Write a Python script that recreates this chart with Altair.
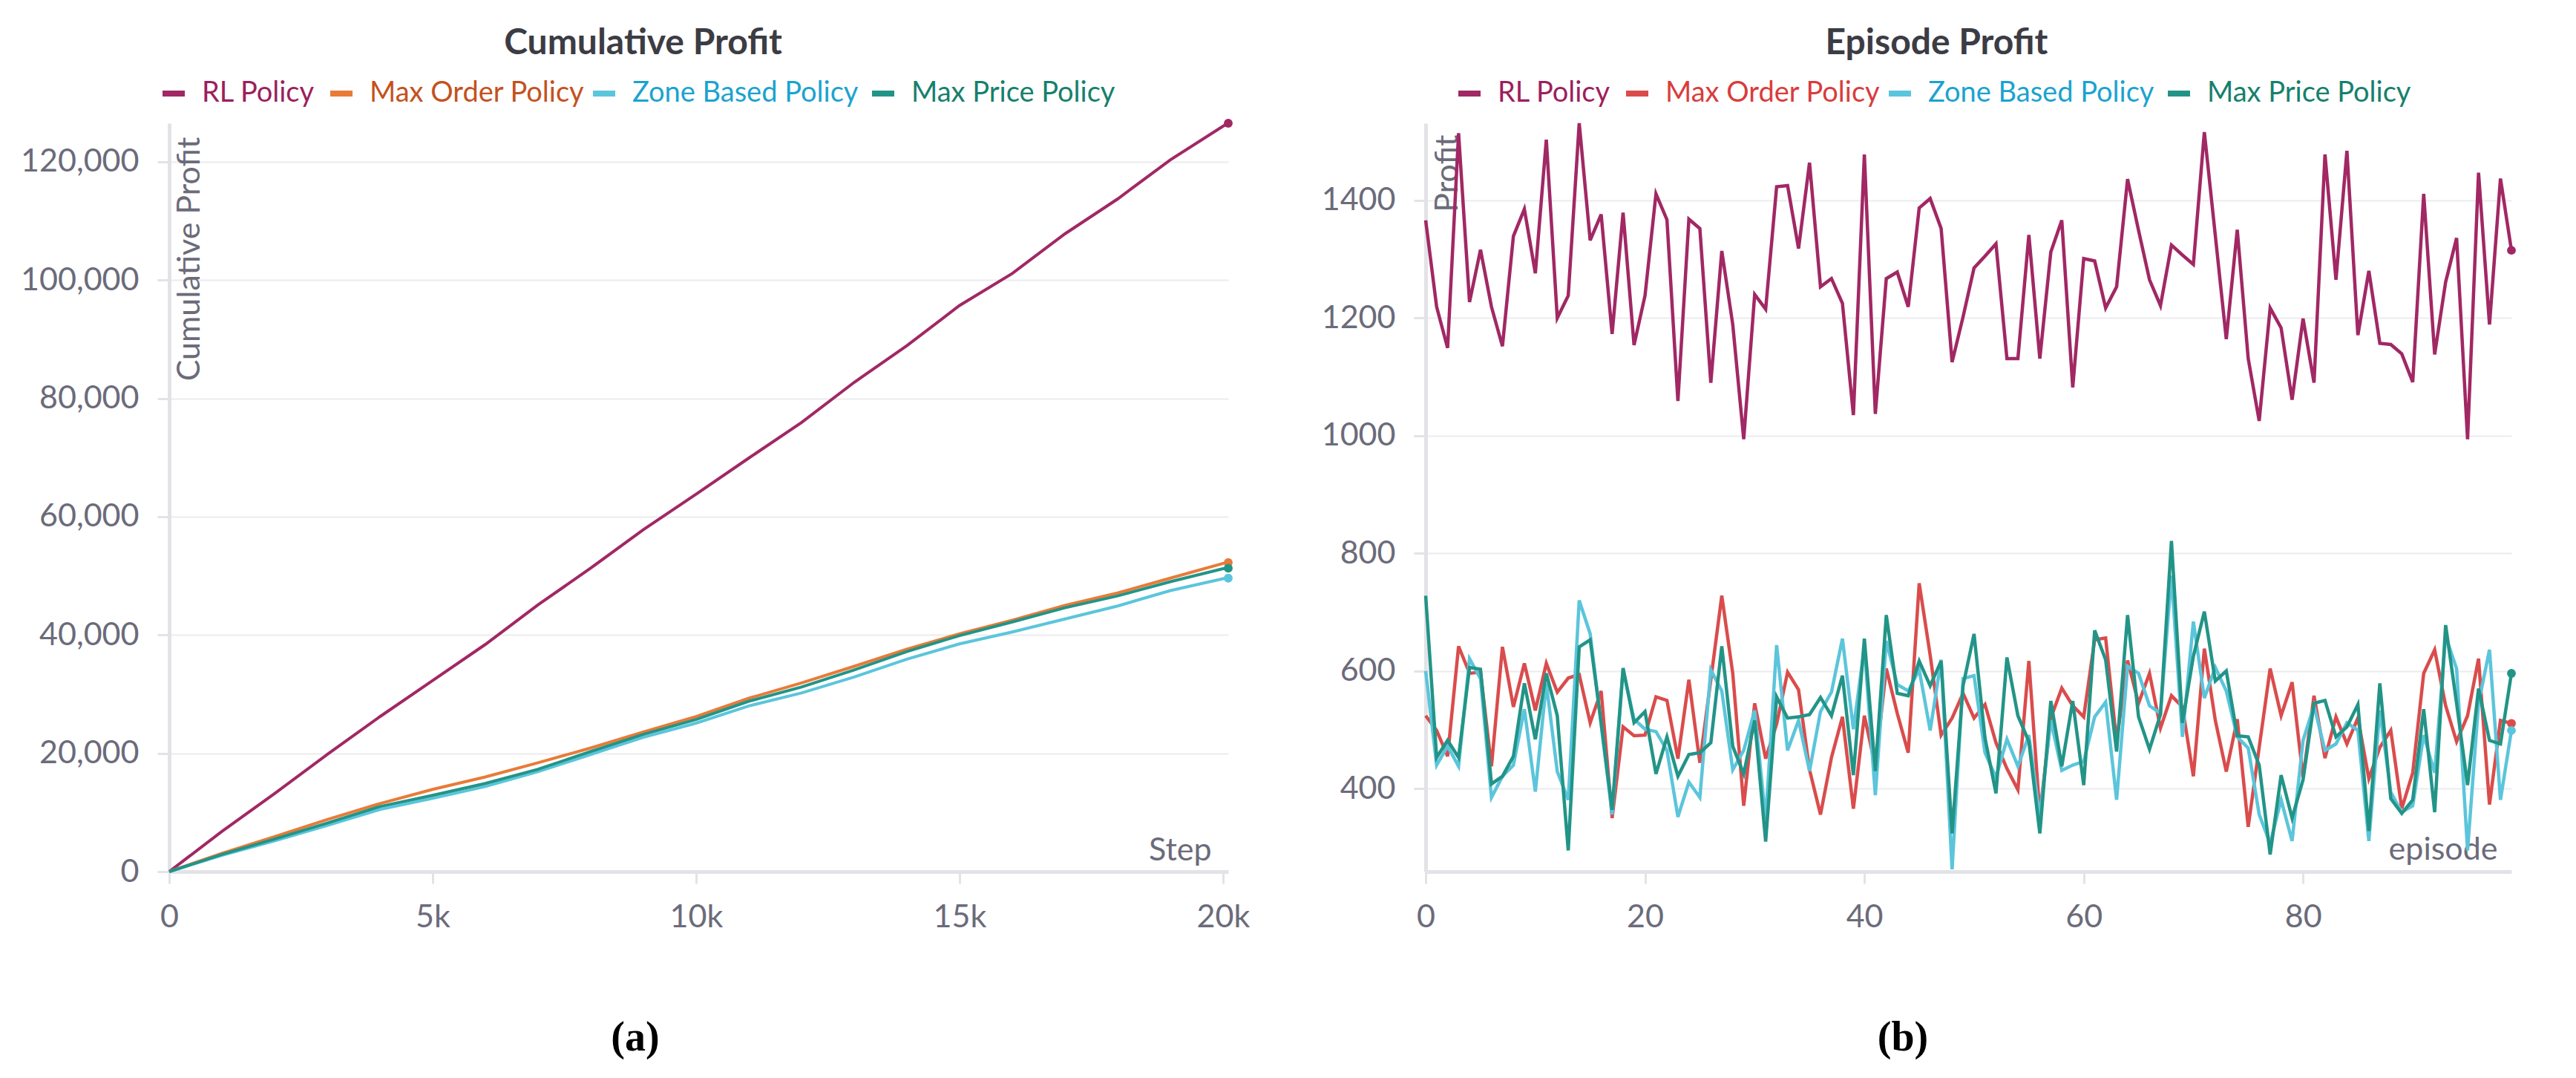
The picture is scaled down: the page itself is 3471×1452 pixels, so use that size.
import altair as alt
import pandas as pd

SERIES = ["RL Policy", "Max Order Policy", "Zone Based Policy", "Max Price Policy"]
LEFT_COLORS = ["#a12864", "#e87b38", "#5bc5db", "#229487"]
RIGHT_COLORS = ["#a12864", "#da4c4c", "#5bc5db", "#229487"]
LEFT_TEXT = ["#9c1f5d", "#c4511d", "#1ba3cf", "#16806d"]
RIGHT_TEXT = ["#9c1f5d", "#d93c3c", "#1ba3cf", "#16806d"]
PANEL_TITLES = ["Cumulative Profit", "Episode Profit"]
PANEL_LABELS = ["(a)", "(b)"]

# ---- Cumulative profit (left) ----
STEPS = [0, 1000, 2000, 3000, 4000, 5000, 6000, 7000, 8000, 9000, 10000,
         11000, 12000, 13000, 14000, 15000, 16000, 17000, 18000, 19000, 20000, 20100]
CUM_RL = [0, 6800, 13200, 19800, 26200, 32300, 38400, 45100, 51300, 57800, 63800,
          69900, 75900, 82700, 88900, 95700, 101100, 107800, 113700, 120300, 126000, 126500]
CUM_ORDER = [0, 3100, 5900, 8800, 11500, 13900, 16000, 18400, 20900, 23600, 26200,
             29300, 31900, 34700, 37600, 40200, 42500, 45000, 47100, 49600, 52100, 52240]
CUM_ZONE = [0, 2750, 5200, 7800, 10500, 12400, 14400, 16900, 19800, 22700, 25100,
            28000, 30200, 32900, 35900, 38500, 40500, 42700, 44900, 47500, 49500, 49600]
CUM_PRICE = [0, 2900, 5500, 8200, 11000, 12900, 14900, 17300, 20300, 23200, 25700,
             28800, 31200, 34100, 37200, 39900, 42200, 44600, 46600, 49000, 51200, 51280]

# ---- Episode profit (right) ----
EPISODES = list(range(100))
EP_RL = [1366, 1219, 1149, 1514, 1227, 1316, 1219, 1152, 1339, 1385,
         1276, 1503, 1200, 1238, 1531, 1332, 1376, 1173, 1379, 1154,
         1238, 1411, 1367, 1059, 1368, 1352, 1090, 1314, 1189, 994,
         1240, 1215, 1423, 1425, 1318, 1464, 1253, 1267, 1225, 1035,
         1478, 1037, 1267, 1278, 1219, 1387, 1403, 1352, 1125, 1202,
         1285, 1305, 1326, 1131, 1131, 1341, 1131, 1312, 1366, 1082,
         1301, 1297, 1217, 1253, 1436, 1349, 1265, 1221, 1324, 1307,
         1291, 1516, 1340, 1164, 1350, 1131, 1025, 1217, 1183, 1061,
         1199, 1090, 1478, 1265, 1484, 1171, 1280, 1157, 1155, 1139,
         1091, 1411, 1138, 1261, 1336, 994, 1447, 1189, 1437, 1315]
EP_ORDER = [524, 499, 455, 642, 596, 598, 438, 641, 539, 613,
            533, 613, 564, 588, 594, 512, 566, 350, 505, 490,
            491, 556, 550, 451, 585, 444, 585, 728, 596, 371,
            545, 451, 510, 598, 568, 432, 356, 453, 522, 366,
            524, 438, 604, 528, 461, 749, 627, 491, 520, 562,
            520, 543, 478, 434, 398, 617, 356, 520, 571, 541,
            522, 653, 656, 480, 618, 545, 596, 503, 558, 539,
            421, 638, 516, 429, 518, 335, 470, 604, 524, 581,
            419, 558, 452, 522, 476, 520, 417, 470, 499, 366,
            427, 596, 636, 541, 480, 524, 621, 373, 516, 511]
EP_ZONE = [600, 440, 472, 438, 621, 587, 385, 421, 440, 535,
           395, 579, 429, 381, 720, 663, 509, 356, 602, 518,
           501, 497, 465, 352, 411, 385, 602, 566, 432, 465,
           533, 347, 644, 465, 516, 430, 531, 564, 655, 501,
           640, 389, 651, 577, 566, 602, 499, 619, 263, 587,
           592, 461, 419, 484, 438, 491, 352, 516, 431, 440,
           446, 522, 547, 381, 608, 596, 541, 528, 762, 488,
           684, 554, 606, 566, 488, 469, 356, 307, 381, 311,
           482, 541, 465, 476, 512, 499, 311, 533, 394, 360,
           371, 491, 427, 659, 604, 295, 545, 636, 381, 499]
EP_PRICE = [728, 453, 482, 453, 606, 603, 408, 421, 455, 579,
            484, 596, 524, 295, 641, 653, 512, 364, 605, 512,
            531, 425, 488, 421, 458, 461, 478, 642, 472, 425,
            516, 310, 556, 520, 522, 526, 555, 524, 592, 423,
            655, 430, 695, 562, 558, 617, 575, 617, 324, 575,
            663, 486, 392, 623, 524, 480, 324, 549, 438, 549,
            406, 669, 619, 463, 695, 522, 467, 526, 821, 512,
            625, 701, 583, 600, 490, 488, 440, 288, 423, 350,
            415, 545, 550, 488, 505, 543, 328, 579, 383, 358,
            381, 535, 360, 678, 545, 406, 570, 482, 476, 596]

LEFT_XTICKS = [0, 5000, 10000, 15000, 20000]
LEFT_YTICKS = [0, 20000, 40000, 60000, 80000, 100000, 120000]
RIGHT_XTICKS = [0, 20, 40, 60, 80]
RIGHT_YTICKS = [400, 600, 800, 1000, 1200, 1400]

FONT = "Lato"
GRAY = "#6b6b7a"
LW, LH = 1427, 1008
RW, RH = 1463, 1008
LEFT_LEGEND_X = [-13, 213, 567, 943]
RIGHT_LEGEND_X = [40, 266, 620, 996]
LEGEND_Y = -59


def long_frame(xname, xs, series_values):
    rows = []
    for name, vals in zip(SERIES, series_values):
        for x, v in zip(xs, vals):
            rows.append({xname: x, "policy": name, "profit": v})
    return pd.DataFrame(rows)


def make_legend(x, text_color):
    return alt.Legend(
        title=None, orient="none", legendX=x, legendY=LEGEND_Y, direction="horizontal",
        symbolType="stroke", symbolStrokeWidth=8, symbolSize=900,
        labelFont=FONT, labelFontSize=38, labelOffset=19, labelColor=text_color,
        padding=0, labelLimit=1000,
    )


def panel(df, xfield, xenc, yenc, colors, text_colors, legend_xs, last_x, stroke_w,
          label, label_x, title, title_dx, width, height):
    layers = []
    for name, c, tc, lx_ in zip(SERIES, colors, text_colors, legend_xs):
        base = alt.Chart(df).transform_filter(alt.datum.policy == name)
        line = base.mark_line(strokeWidth=stroke_w).encode(
            x=xenc, y=yenc,
            color=alt.Color("policy:N", scale=alt.Scale(domain=[name], range=[c]),
                            legend=make_legend(lx_, tc)),
        )
        layers.append(line)
    for name, c in zip(SERIES, colors):
        pt = alt.Chart(df).transform_filter(
            (alt.datum.policy == name) & (alt.datum[xfield] == last_x)
        ).mark_circle(size=140, opacity=1, color=c).encode(x=xenc, y=yenc)
        layers.append(pt)
    lab = alt.Chart(pd.DataFrame({"t": [label]})).mark_text(
        font="Liberation Serif", fontSize=56, fontWeight="bold", color="black",
        align="center", baseline="middle").encode(
        text="t:N", x=alt.value(label_x), y=alt.value(1232))
    layers.append(lab)
    return alt.layer(*layers).resolve_scale(color="independent").resolve_legend(
        color="independent").properties(
        width=width, height=height,
        title=alt.TitleParams(text=title, font=FONT, fontSize=48, fontWeight="bold",
                              color="#3c3c44", anchor="middle", frame="group", dx=title_dx,
                              offset=-14, baseline="alphabetic"),
    )


cum_df = long_frame("step", STEPS, [CUM_RL, CUM_ORDER, CUM_ZONE, CUM_PRICE])
ep_df = long_frame("episode", EPISODES, [EP_RL, EP_ORDER, EP_ZONE, EP_PRICE])

lx = alt.X("step:Q", scale=alt.Scale(domain=[0, 20100], nice=False),
           axis=alt.Axis(values=LEFT_XTICKS, grid=False, labelFlush=False,
                         labelExpr="datum.value === 0 ? '0' : (datum.value / 1000) + 'k'",
                         labelPadding=24, title="Step", titleX=LW - 23, titleY=-16,
                         titleAlign="right", titleBaseline="alphabetic", titleAngle=0))
ly = alt.Y("profit:Q", scale=alt.Scale(domain=[0, 126500], nice=False),
           axis=alt.Axis(values=LEFT_YTICKS, format=",d", grid=True, labelFlush=False,
                         labelPadding=25, title="Cumulative Profit", titleX=6, titleY=18,
                         titleAngle=270, titleAlign="right", titleBaseline="top"))
rx = alt.X("episode:Q", scale=alt.Scale(domain=[0, 99], nice=False),
           axis=alt.Axis(values=RIGHT_XTICKS, format="d", grid=False, labelFlush=False,
                         labelPadding=24, title="episode", titleX=RW - 19, titleY=-17,
                         titleAlign="right", titleBaseline="alphabetic", titleAngle=0))
ry = alt.Y("profit:Q", scale=alt.Scale(domain=[259, 1531], nice=False),
           axis=alt.Axis(values=RIGHT_YTICKS, format="d", grid=True, labelFlush=False,
                         labelPadding=25, title="Profit", titleX=8, titleY=15,
                         titleAngle=270, titleAlign="right", titleBaseline="top"))

left = panel(cum_df, "step", lx, ly, LEFT_COLORS, LEFT_TEXT, LEFT_LEGEND_X, STEPS[-1], 4,
             PANEL_LABELS[0], 628, PANEL_TITLES[0], -75, LW, LH)
right = panel(ep_df, "episode", rx, ry, RIGHT_COLORS, RIGHT_TEXT, RIGHT_LEGEND_X, EPISODES[-1], 4.5,
              PANEL_LABELS[1], 643, PANEL_TITLES[1], -43, RW, RH)

chart = alt.hconcat(left, right, spacing=266, bounds="flush").resolve_scale(
    color="independent", x="independent", y="independent"
).resolve_legend(color="independent").properties(
    padding={"left": 19, "top": 27, "right": 20, "bottom": 10}
).configure_view(stroke=None).configure_axis(
    labelFont=FONT, labelFontSize=43, labelColor=GRAY,
    titleFont=FONT, titleFontSize=43, titleColor=GRAY, titleFontWeight="normal",
    domainColor="#e3e3e7", domainWidth=5,
    tickColor="#e3e3e7", tickWidth=3, tickSize=16,
    gridColor="#ececef", gridWidth=2,
)

chart.save("out.html", embed_options={"renderer": "svg", "actions": False})
